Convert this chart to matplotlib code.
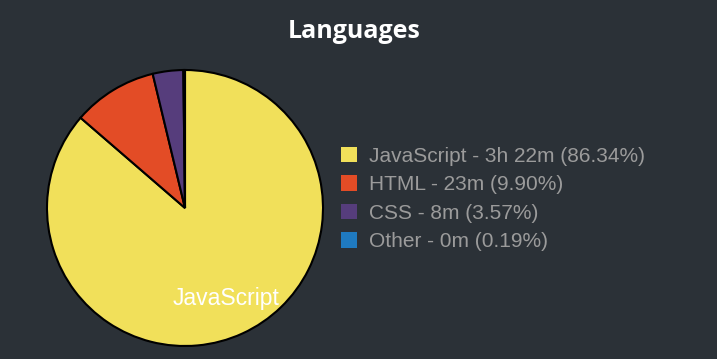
import matplotlib
matplotlib.use('Agg')
import matplotlib.pyplot as plt
from matplotlib.patches import Patch

# Data
languages = ['JavaScript', 'HTML', 'CSS', 'Other']
durations = ['3h 22m', '23m', '8m', '0m']
percents = [86.34, 9.90, 3.57, 0.19]
colors = ['#f1e05a', '#e34c26', '#563d7c', '#1f7ac0']

bg = '#2b3137'
W, H = 717, 359

fig = plt.figure(figsize=(W / 100, H / 100), dpi=100, facecolor=bg)

# pie centred at (185, 208) px with radius 138 px
cx, cy, r = 185, 208, 138
pad = 4
ax = fig.add_axes([(cx - r - pad) / W, (H - cy - r - pad) / H,
                   2 * (r + pad) / W, 2 * (r + pad) / H])
ax.set_facecolor(bg)

pie_labels = [languages[0]] + [''] * (len(languages) - 1)
wedges, texts = ax.pie(percents, colors=colors, startangle=90, counterclock=False,
                       labels=pie_labels, labeldistance=0.72,
                       wedgeprops=dict(edgecolor='black', linewidth=1.5),
                       textprops=dict(color='white', fontsize=16.5,
                                      family='Liberation Sans'))
for t in texts:
    t.set_horizontalalignment('center')
lim = 1 + pad / r
ax.set_xlim(-lim, lim)
ax.set_ylim(-lim, lim)
ax.set_aspect('equal')
ax.axis('off')

fig.text(354 / W, 1 - 31 / H, 'Languages', color='white', fontsize=18,
         fontweight='bold', family='Open Sans', ha='center', va='center')

handles = [Patch(facecolor=c, edgecolor='none') for c in colors]
legend_labels = [f'{l} - {d} ({p:.2f}%)' for l, d, p in zip(languages, durations, percents)]
leg = fig.legend(handles, legend_labels, loc='center left',
                 bbox_to_anchor=(333 / W, 1 - 199 / H), frameon=False,
                 prop=dict(family='Liberation Sans', size=15),
                 labelcolor='#9b9b9b', handlelength=0.77, handleheight=0.77,
                 handletextpad=0.57, labelspacing=0.46, borderaxespad=0)

fig.savefig('out.png', dpi=100, facecolor=bg)
